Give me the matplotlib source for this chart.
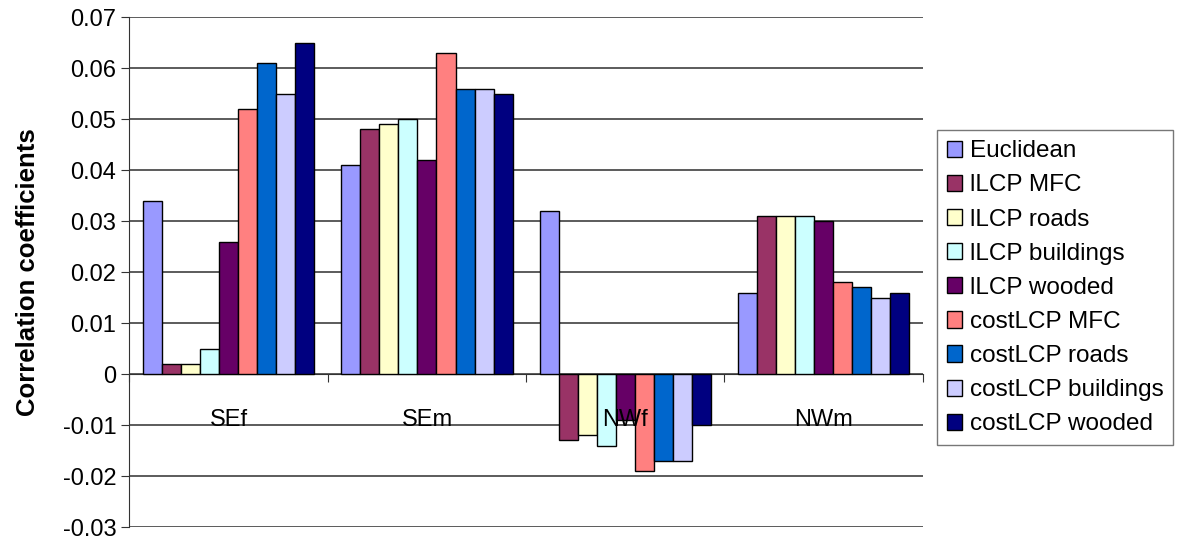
import matplotlib.pyplot as plt
import numpy as np
from matplotlib.transforms import offset_copy

plt.rcParams['font.family'] = ['Liberation Sans', 'DejaVu Sans']

groups = ["SEf", "SEm", "NWf", "NWm"]
series = ["Euclidean", "lLCP MFC", "lLCP roads", "lLCP buildings", "lLCP wooded",
          "costLCP MFC", "costLCP roads", "costLCP buildings", "costLCP wooded"]
colors = ["#9999FF", "#993366", "#FFFFCC", "#CCFFFF", "#660066",
          "#FF8080", "#0066CC", "#CCCCFF", "#000080"]

# one list per series, values for SEf, SEm, NWf, NWm
euclidean = [0.034, 0.041, 0.032, 0.016]
llcp_mfc = [0.002, 0.048, -0.013, 0.031]
llcp_roads = [0.002, 0.049, -0.012, 0.031]
llcp_buildings = [0.005, 0.050, -0.014, 0.031]
llcp_wooded = [0.026, 0.042, -0.009, 0.030]
cost_mfc = [0.052, 0.063, -0.019, 0.018]
cost_roads = [0.061, 0.056, -0.017, 0.017]
cost_buildings = [0.055, 0.056, -0.017, 0.015]
cost_wooded = [0.065, 0.055, -0.010, 0.016]

values = [euclidean, llcp_mfc, llcp_roads, llcp_buildings, llcp_wooded,
          cost_mfc, cost_roads, cost_buildings, cost_wooded]

fig = plt.figure(figsize=(11.77, 5.39), dpi=100)
ax = fig.add_axes([0.110, 0.022, 0.674, 0.946])

x = np.arange(len(groups))
w = 1 / (len(series) + 1.42)
for i, (name, vals, col) in enumerate(zip(series, values, colors)):
    ax.bar(x + (i - 4) * w, vals, w, color=col, edgecolor='black',
           linewidth=1, label=name, zorder=3)

ax.set_xlim(-0.5, 3.5)
ax.set_ylim(-0.03, 0.07)
yt = np.arange(-0.03, 0.0701, 0.01)
ax.set_yticks(yt)
ax.set_yticklabels(["%g" % round(v, 2) for v in yt], fontsize=17)
ax.yaxis.grid(True, color='#404040', linewidth=1.2, zorder=0)

for s in ['top', 'right']:
    ax.spines[s].set_visible(False)
ax.spines['left'].set_color('#333333')
ax.spines['bottom'].set_position(('data', 0))
ax.spines['bottom'].set_color('#333333')
ax.set_xticks(np.arange(-0.5, 4, 1))
ax.set_xticklabels([])
ax.tick_params(axis='x', length=6, direction='out', color='#333333')
ax.tick_params(axis='y', length=6, color='#333333')

# category labels drawn above the bars, as in the original
trans = offset_copy(ax.transData, fig=fig, x=0, y=-46, units='dots')
for xi, g in zip(x, groups):
    ax.text(xi, 0, g, transform=trans, ha='center', va='center',
            fontsize=17, zorder=10)

ax.set_ylabel("Correlation coefficients", fontsize=18.5, fontweight='bold', labelpad=16)

fig.legend(loc='center left', bbox_to_anchor=(0.796, 0.466), fontsize=17.5,
           frameon=True, fancybox=False, edgecolor='#555555',
           handlelength=0.65, handleheight=0.65, handletextpad=0.3,
           labelspacing=0.5, borderpad=0.4, borderaxespad=0)

plt.savefig("out.png", dpi=100)
